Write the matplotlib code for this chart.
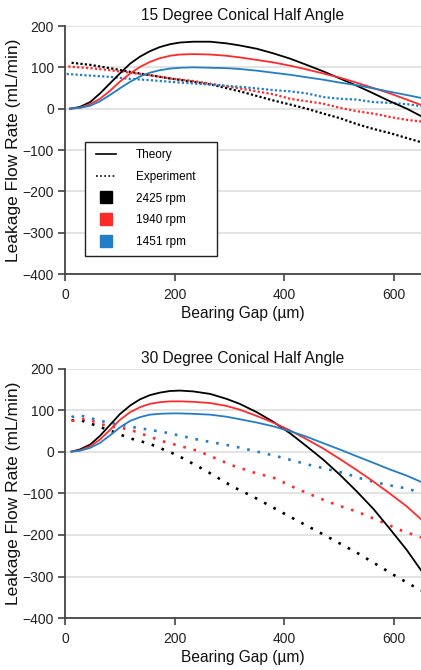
import matplotlib
matplotlib.use("Agg")
import matplotlib.pyplot as plt
from matplotlib.lines import Line2D
from matplotlib.patches import Rectangle

plt.rcParams['font.family'] = ['Liberation Sans', 'DejaVu Sans']

# ---------------- data ----------------
rpm_labels = ["2425 rpm", "1940 rpm", "1451 rpm"]
colors = ["#000000", "#ff2a2a", "#1f7fc8"]
titles = ["15 Degree Conical Half Angle", "30 Degree Conical Half Angle"]
yticks = [200, 100, 0, -100, -200, -300, -400]
xticks = [0, 200, 400, 600]

# 15 degree - theory
t15_x = [9, 27, 46, 64, 82, 100, 119, 137, 155, 173, 192, 210, 234, 265, 295,
         319, 350, 380, 411, 441, 472, 502, 532, 563, 593, 624, 650]
t15_2425 = [0, 4, 16, 37, 61, 85, 109, 126, 139, 149, 156, 160, 162, 162, 158,
            153, 145, 134, 121, 106, 90, 73, 56, 37, 18, 0, -18]
t15_1940 = [0, 2, 11, 24, 43, 65, 85, 101, 113, 122, 128, 131, 132, 131, 128,
            124, 118, 112, 104, 95, 85, 75, 63, 50, 37, 22, 9]
t15_1451 = [0, 2, 7, 18, 33, 49, 65, 78, 87, 93, 97, 99, 100, 99, 98,
            96, 92, 87, 82, 76, 70, 63, 57, 49, 41, 33, 26]

# 15 degree - experiment
e15_2425_x = [12, 46, 82, 119, 155, 192, 234, 265, 319, 380, 411, 441, 472, 502,
              532, 563, 593, 624, 650]
e15_2425 = [111, 106, 98, 89, 81, 73, 65, 59, 42, 20, 10, 0, -12, -23,
            -37, -49, -59, -71, -81]
e15_1940_x = [6, 46, 82, 119, 155, 192, 234, 319, 380, 411, 441, 472, 502, 532,
              563, 593, 624, 650]
e15_1940 = [102, 98, 93, 87, 81, 73, 67, 49, 35, 24, 18, 12, 2, -6,
            -12, -20, -27, -31]
e15_1451_x = [3, 46, 82, 119, 155, 192, 234, 319, 380, 411, 441, 472, 502, 532,
              563, 593, 624, 650]
e15_1451 = [84, 80, 77, 72, 69, 65, 61, 53, 45, 42, 37, 28, 24, 22,
            16, 14, 11, 6]

# 30 degree - theory
t30_x = [12, 27, 46, 64, 82, 100, 119, 137, 155, 173, 192, 210, 234, 265, 295,
         319, 350, 380, 411, 441, 472, 502, 532, 563, 593, 624, 650]
t30_2425 = [1, 6, 18, 39, 65, 91, 112, 127, 137, 143, 147, 148, 146, 140, 128,
            116, 96, 73, 45, 14, -19, -55, -94, -137, -185, -236, -285]
t30_1940 = [1, 4, 14, 30, 53, 77, 96, 108, 116, 120, 122, 122, 121, 118, 111,
            102, 87, 71, 52, 31, 8, -17, -43, -71, -100, -131, -162]
t30_1451 = [1, 3, 10, 22, 40, 59, 75, 84, 90, 92, 93, 93, 92, 90, 85,
            79, 71, 62, 50, 37, 21, 6, -10, -26, -42, -57, -72]

# 30 degree - experiment
e30_2425_x = [12, 26, 52, 90, 116, 154, 204, 257, 307, 344, 408, 472, 536, 600, 650]
e30_2425 = [76, 78, 66, 48, 34, 20, -7, -45, -84, -108, -154, -199, -245, -296, -334]
e30_1940_x = [12, 38, 76, 116, 178, 242, 307, 344, 383, 421, 460, 497, 536, 574, 612, 650]
e30_1940 = [75, 80, 63, 55, 26, 3, -33, -49, -63, -87, -109, -128, -145, -166, -188, -206]
e30_1451_x = [12, 24, 38, 64, 128, 180, 242, 307, 344, 383, 446, 510, 548, 587, 625, 650]
e30_1451 = [84, 89, 85, 75, 59, 48, 30, 14, 3, -9, -31, -51, -67, -79, -88, -99]

theory = [
    [(t15_x, t15_2425), (t15_x, t15_1940), (t15_x, t15_1451)],
    [(t30_x, t30_2425), (t30_x, t30_1940), (t30_x, t30_1451)],
]
experiment = [
    [(e15_2425_x, e15_2425), (e15_1940_x, e15_1940), (e15_1451_x, e15_1451)],
    [(e30_2425_x, e30_2425), (e30_1940_x, e30_1940), (e30_1451_x, e30_1451)],
]
dot_styles = [(0, (1, 1)), (0, (1, 3))]

# ---------------- figure ----------------
W, H = 421, 670
fig = plt.figure(figsize=(W / 100, H / 100), dpi=100)
boxes = [(65, 26, 274), (65, 369, 618)]
spine_col = "#444444"

axes = []
for i, (l, t, b) in enumerate(boxes):
    ax = fig.add_axes([l / W, 1 - b / H, (W - l) / W, (b - t) / H])
    axes.append(ax)
    ax.set_xlim(0, 650)
    ax.set_ylim(-400, 200)
    ax.set_yticks(yticks)
    ax.set_xticks(xticks)
    ax.yaxis.grid(True, color="#e3e3e3", linewidth=1.4)
    ax.set_axisbelow(True)
    for s in ["top", "right"]:
        ax.spines[s].set_visible(False)
    for s in ["left", "bottom"]:
        ax.spines[s].set_color(spine_col)
        ax.spines[s].set_linewidth(1.3)
    ax.tick_params(direction="out", length=5, width=1.2, color=spine_col,
                   labelsize=10, labelcolor="#222222")
    ax.tick_params(axis="x", pad=5)
    ax.tick_params(axis="y", pad=3)
    ax.set_title(titles[i], fontsize=11.2, pad=4, color="#111111")
    ax.set_xlabel("Bearing Gap (µm)", fontsize=11.2, labelpad=3, color="#111111")
    ax.set_ylabel("Leakage Flow Rate (mL/min)", fontsize=12.5, labelpad=1, color="#111111")

    for (x, y), c in zip(experiment[i], colors):
        ax.plot(x, y, color=c, linewidth=1.6 if i == 0 else 1.9,
                linestyle=dot_styles[i], clip_on=True)
    for (x, y), c in zip(theory[i], colors):
        ax.plot(x, y, color=c, linewidth=1.3, clip_on=True)

# legend (frame drawn separately to match the reference box)
ax0 = axes[0]
ax0.add_patch(Rectangle((0.0562, 0.0726), 0.3708, 0.4594, transform=ax0.transAxes,
                        facecolor="white", edgecolor="#222222", linewidth=1.0, zorder=4))
handles = [
    Line2D([], [], color="black", linewidth=1.2, linestyle="-"),
    Line2D([], [], color="black", linewidth=1.2, linestyle=(0, (1, 1.5))),
] + [Line2D([], [], color=c, marker="s", markersize=8, linestyle="None") for c in colors]
labels = ["Theory", "Experiment"] + rpm_labels
leg = ax0.legend(handles, labels, loc="upper left", bbox_to_anchor=(0.087, 0.503),
                 fontsize=8.5, frameon=False, handlelength=1.7, handletextpad=1.7,
                 labelspacing=0.82, borderpad=0, borderaxespad=0)
leg.set_zorder(5)

fig.savefig("out.png", dpi=100)
